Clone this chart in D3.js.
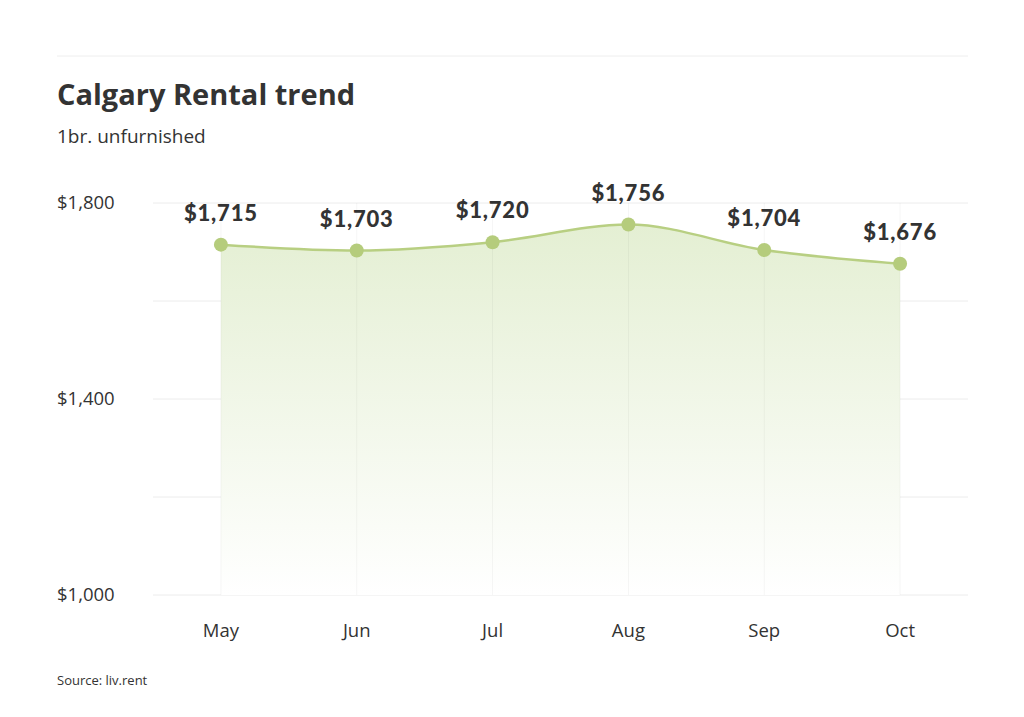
<!DOCTYPE html>
<html><head><meta charset="utf-8">
<script src="https://cdn.jsdelivr.net/npm/d3@7"></script>
<style>body{margin:0;background:#fff}svg{display:block}</style>
</head><body>
<svg id="c" width="1024" height="717"></svg>
<script>
const months = ["May","Jun","Jul","Aug","Sep","Oct"];
const rents = [1715,1703,1720,1756,1704,1676];
const gridTicks = [1000,1200,1400,1600,1800];
const labelTicks = [1000,1400,1800];

const svg = d3.select("#c");
const L=153, R=968, T=203, B=595;
const x = d3.scalePoint().domain(months).range([L,R]).padding(0.5);
const y = d3.scaleLinear().domain([1000,1800]).range([B,T]);
const data = months.map((m,i)=>({m,v:rents[i]}));

svg.append("line").attr("x1",57).attr("x2",968).attr("y1",56).attr("y2",56).attr("stroke","#eeeeee");
svg.append("text").attr("x",57).attr("y",105).text("Calgary Rental trend")
  .attr("font-family","Open Sans").attr("font-weight",700).attr("font-size",29).attr("fill","#333");
svg.append("text").attr("x",57).attr("y",143).text("1br. unfurnished")
  .attr("font-family","Open Sans").attr("font-size",19).attr("fill","#333");

const defs = svg.append("defs");
const g = defs.append("linearGradient").attr("id","gr").attr("x1",0).attr("x2",0).attr("y1",0).attr("y2",1);
g.append("stop").attr("offset","0%").attr("stop-color","#e4efd3");
g.append("stop").attr("offset","100%").attr("stop-color","#ffffff");

svg.append("g").selectAll("line").data(gridTicks).join("line")
  .attr("x1",L).attr("x2",R).attr("y1",d=>y(d)).attr("y2",d=>y(d)).attr("stroke","#ececec");

const curve = d3.curveMonotoneX;
const area = d3.area().x(d=>x(d.m)).y0(B).y1(d=>y(d.v)).curve(curve);
svg.append("path").datum(data).attr("d",area).attr("fill","url(#gr)");

svg.append("g").selectAll("line").data(months).join("line")
  .attr("x1",d=>x(d)).attr("x2",d=>x(d)).attr("y1",T).attr("y2",B).attr("stroke","#000").attr("stroke-opacity",0.04);

const line = d3.line().x(d=>x(d.m)).y(d=>y(d.v)).curve(curve);
svg.append("path").datum(data).attr("d",line).attr("fill","none").attr("stroke","#b8cf82").attr("stroke-width",2.5);

svg.append("g").selectAll("circle").data(data).join("circle")
  .attr("cx",d=>x(d.m)).attr("cy",d=>y(d.v)).attr("r",7).attr("fill","#b5cc7c");

svg.append("g").selectAll("text").data(data).join("text")
  .attr("x",d=>x(d.m)).attr("y",d=>y(d.v)-24).attr("text-anchor","middle")
  .attr("font-family","Lato").attr("font-weight",900).attr("font-size",22).attr("letter-spacing",0.8).attr("fill","#333")
  .text(d=>d3.format("$,")(d.v));

svg.append("g").selectAll("text").data(labelTicks).join("text")
  .attr("x",57).attr("y",d=>y(d)).attr("dy","0.35em")
  .attr("font-family","Open Sans").attr("font-size",18.5).attr("fill","#333")
  .text(d=>d3.format("$,")(d));

svg.append("g").selectAll("text").data(months).join("text")
  .attr("x",d=>x(d)).attr("y",637).attr("text-anchor","middle")
  .attr("font-family","Open Sans").attr("font-size",18.5).attr("fill","#333").text(d=>d);

svg.append("text").attr("x",57).attr("y",685).text("Source: liv.rent")
  .attr("font-family","Open Sans").attr("font-size",13).attr("fill","#333");
</script>
</body></html>
